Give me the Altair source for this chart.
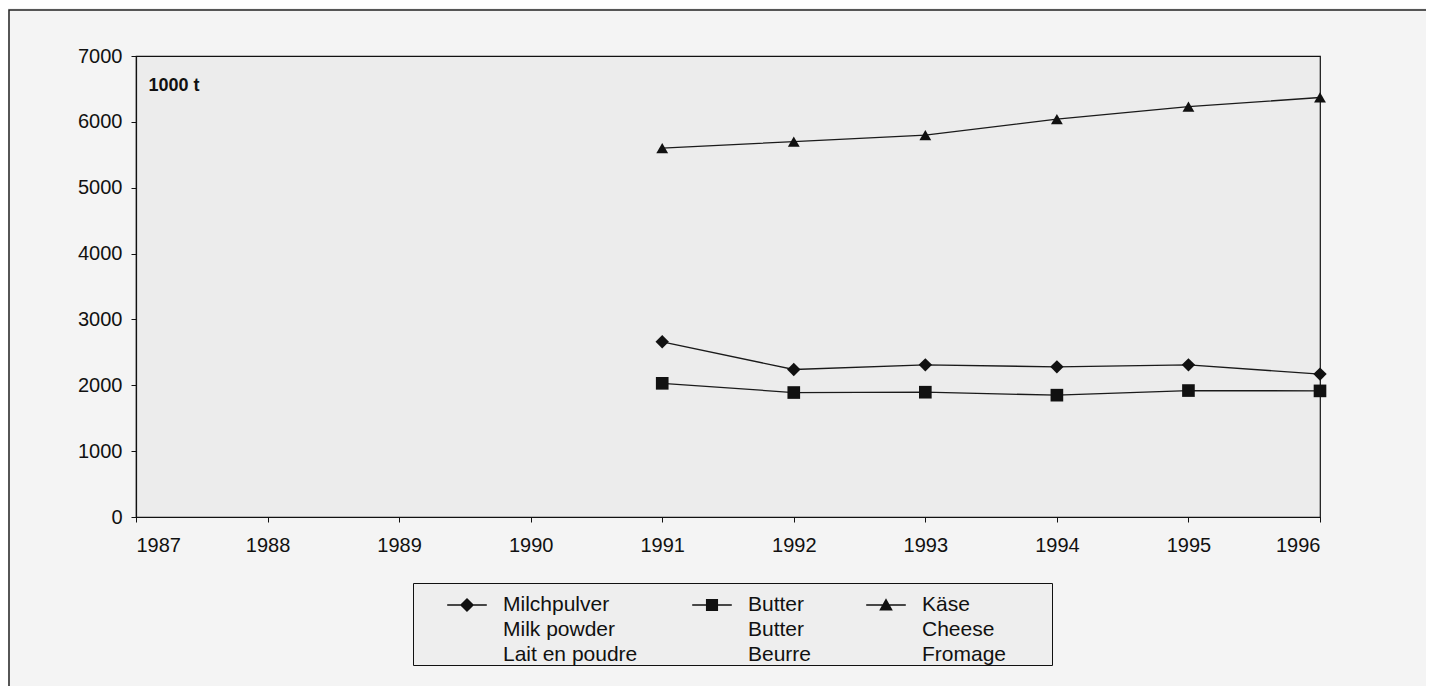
import altair as alt
import pandas as pd

years = [1991, 1992, 1993, 1994, 1995, 1996]
milk_powder = [2660, 2240, 2310, 2280, 2310, 2170]
butter = [2030, 1890, 1895, 1850, 1920, 1915]
cheese = [5600, 5700, 5800, 6040, 6230, 6370]

series = ["Milchpulver", "Butter", "Käse"]
names_en = ["Milk powder", "Butter", "Cheese"]
names_fr = ["Lait en poudre", "Beurre", "Fromage"]

x_ticks = list(range(1987, 1997))
y_ticks = list(range(0, 7001, 1000))
unit_label = "1000 t"

rows = []
for s, vals in zip(series, [milk_powder, butter, cheese]):
    for yr, v in zip(years, vals):
        rows.append({"year": yr, "value": v, "series": s})
df = pd.DataFrame(rows)

FONT = "Liberation Sans"
INK = "#111111"
PAD = "\u2800" * 3

parts = []
for i, (de, en, fr) in enumerate(zip(series, names_en, names_fr)):
    tail = PAD if i == len(series) - 1 else ""
    parts.append(f"datum.label == '{de}' ? ['{de}', '{en}', '{fr}{tail}']")
label_expr = " : ".join(parts) + " : datum.label"

BAR = "M-1.8,0.94H1.8V1.06H-1.8Z"
legend_paths = [
    BAR + "M0,0.36L0.64,1L0,1.64L-0.64,1Z",
    BAR + "M-0.55,0.45H0.55V1.55H-0.55Z",
    BAR + "M0,0.38L0.62,1.5L-0.62,1.5Z",
]

xenc = alt.X(
    "year:Q",
    scale=alt.Scale(domain=[1987, 1996], nice=False, zero=False),
    axis=alt.Axis(values=x_ticks, format="d", title=None, labelPadding=13),
)
yenc = alt.Y(
    "value:Q",
    scale=alt.Scale(domain=[0, 7000], nice=False),
    axis=alt.Axis(
        values=y_ticks,
        format="d",
        labelPadding=9,
        title=unit_label,
        titleAngle=0,
        titleX=12,
        titleY=29,
        titleAlign="left",
        titleBaseline="middle",
        titleFontWeight="bold",
        titleFontSize=18,
        titleFont=FONT,
        titleColor=INK,
    ),
)

base = alt.Chart(df).encode(x=xenc, y=yenc)

lines = base.mark_line(color="#1a1a1a", strokeWidth=1.3).encode(detail="series:N")

points = base.mark_point(filled=True, color=INK, opacity=1).encode(
    shape=alt.Shape(
        "series:N",
        scale=alt.Scale(domain=series, range=["diamond", "square", "triangle-up"]),
        legend=None,
    ),
    size=alt.Size(
        "series:N",
        scale=alt.Scale(domain=series, range=[180, 140, 210]),
        legend=None,
    ),
)

legend_layer = base.mark_point(filled=True, color=INK, opacity=0).encode(
    shape=alt.Shape(
        "series:N",
        scale=alt.Scale(domain=series, range=legend_paths),
        legend=alt.Legend(
            title=None,
            orient="none",
            legendX=277,
            legendY=527,
            direction="horizontal",
            columns=3,
            columnPadding=20,
            padding=0,
            strokeColor=INK,
            fillColor="#eeeeee",
            labelFont=FONT,
            labelFontSize=21,
            labelColor=INK,
            labelBaseline="top",
            labelOffset=25,
            labelLimit=400,
            symbolOffset=43,
            symbolSize=484,
            symbolOpacity=1,
            symbolFillColor=INK,
            symbolStrokeColor=INK,
            symbolStrokeWidth=0,
            labelExpr=label_expr,
        ),
    )
)

frame = alt.Chart(pd.DataFrame({"a": [0]})).mark_rect(
    fillOpacity=0, stroke="#222222", strokeWidth=1.5
).encode(
    x=alt.value(-127), x2=alt.value(1291), y=alt.value(-46), y2=alt.value(640)
)

chart = (
    alt.layer(frame, lines, points, legend_layer)
    .resolve_scale(shape="independent", size="independent")
    .properties(
        width=1184,
        height=461,
        autosize=alt.AutoSizeParams(type="none"),
        padding={"left": 128, "top": 48, "right": 106, "bottom": 170},
        background="#f4f4f4",
    )
    .configure(
        style={"guide-label": {"lineHeight": 25}},
        view=alt.ViewConfig(stroke=INK, strokeWidth=1.2, fill="#ececec"),
        axis=alt.AxisConfig(
            domainColor=INK,
            tickColor=INK,
            labelColor=INK,
            labelFont=FONT,
            labelFontSize=20,
            grid=False,
            tickSize=5,
            domainWidth=1.2,
        ),
    )
)

chart.save("out.html", embed_options={"renderer": "svg", "actions": False})
